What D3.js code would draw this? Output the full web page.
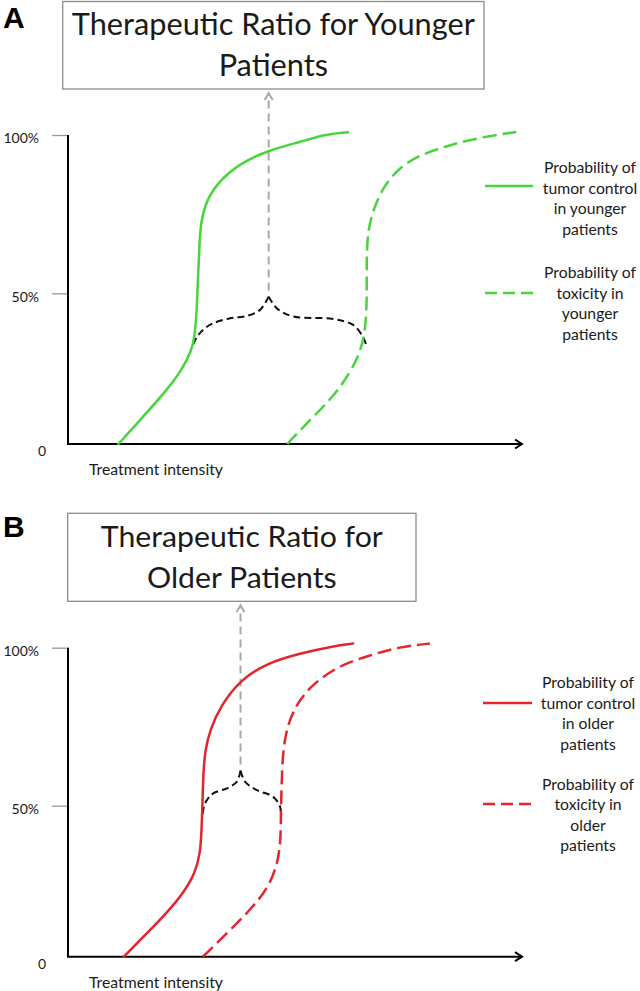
<!DOCTYPE html>
<html>
<head>
<meta charset="utf-8">
<script src="https://cdn.jsdelivr.net/npm/d3@7"></script>
<style>
  html, body { margin: 0; padding: 0; background: #fff; }
  svg { display: block; }
</style>
</head>
<body>
<svg id="chart" width="640" height="991"></svg>
<script>
// ---------------- DATA ----------------
const yTickValues = [0, 50, 100];
const yTickLabels = ["0", "50%", "100%"];
const xAxisLabel = "Treatment intensity";
const panelLetters = ["A", "B"];
const titleLinesA = ["Therapeutic Ratio for Younger", "Patients"];
const titleLinesB = ["Therapeutic Ratio for", "Older Patients"];
const legendControlA = ["Probability of", "tumor control", "in younger", "patients"];
const legendToxicityA = ["Probability of", "toxicity in", "younger", "patients"];
const legendControlB = ["Probability of", "tumor control", "in older", "patients"];
const legendToxicityB = ["Probability of", "toxicity in", "older", "patients"];

// [treatment intensity (0-100 along the axis), probability %]
const youngerControl = [[11.1,0],[16.5,9.0],[21.8,17.9],[25.1,24.6],[27.3,31.2],[28.0,36.8],[28.4,45.5],[28.6,54.2],[28.9,62.7],[29.1,70.9],[30.2,78.5],[32.8,84.8],[37.9,91.2],[44.5,95.3],[51.1,97.8],[57.0,100.3],[61.7,100.9]];
const youngerToxicity = [[48.3,0],[53.3,8.0],[58.4,15.6],[62.1,23.6],[64.3,30.2],[65.4,36.8],[65.8,45.5],[65.8,54.2],[65.8,62.7],[66.1,70.0],[67.2,76.3],[69.4,83.6],[73.1,89.9],[77.5,93.7],[84.1,96.9],[91.4,99.4],[98.9,101.0]];
const youngerGap = [[27.4,32.5],[28.4,35.5],[29.9,38.1],[31.9,40.0],[35.7,41.7],[39.4,42.5],[42.3,44.5],[44.2,48.9],[46.0,45.0],[49.6,42.3],[58.4,41.5],[62.8,39.5],[65.0,35.5],[65.6,33.2]];

const olderControl = [[12.3,0],[16.6,6.6],[21.7,14.4],[25.4,21.0],[28.0,27.6],[29.1,34.2],[29.4,40.9],[29.6,49.7],[29.8,60.3],[30.2,67.6],[31.3,74.0],[33.5,81.3],[37.9,89.8],[43.8,95.1],[51.1,98.2],[58.4,100.5],[62.8,101.3]];
const olderToxicity = [[29.7,0],[35.0,7.7],[40.1,15.5],[43.8,22.1],[46.0,29.8],[46.7,36.4],[46.9,43.0],[46.9,49.7],[47.1,58.1],[47.3,66.6],[48.2,75.0],[50.4,82.4],[54.0,88.7],[59.9,94.5],[66.5,97.6],[73.1,100.3],[79.7,101.3]];
const olderGap = [[29.6,46.7],[30.2,50.8],[32.0,53.9],[35.0,55.5],[37.2,57.6],[38.0,61.1],[39.0,57.6],[41.5,55.0],[45.2,52.8],[46.7,49.7],[46.9,46.7]];

// ---------------- STYLE / LAYOUT ----------------
const GREEN = "#48d43c";
const RED = "#e2262b";
const GRAY = "#a9a9a9";
const TEXT = "#1a1a1a";
const FONT = "Lato, 'Open Sans', sans-serif";

const svg = d3.select("#chart");
const x = d3.scaleLinear().domain([0, 100]).range([68, 522]);

const panels = [
  { letter: panelLetters[0], letterY: 28, yRange: [444, 293.3, 135],
    box: {x: 62.7, y: 1.5, w: 421.3, h: 87.5}, title: titleLinesA, titleSize: 30,
    titleBase: [35, 76], titleTarget: 403,
    color: GREEN, control: youngerControl, toxicity: youngerToxicity, gap: youngerGap,
    legend: [legendControlA, legendToxicityA], legendLineY: [186, 293], legendX: [485, 533], legendTextX: 590,
    legendFirstY: [168, 273] },
  { letter: panelLetters[1], letterY: 537, yRange: [956.7, 805.7, 647.7],
    box: {x: 67.7, y: 513.3, w: 348.3, h: 88}, title: titleLinesB, titleSize: 28.5,
    titleBase: [547, 588], titleTarget: 282,
    color: RED, control: olderControl, toxicity: olderToxicity, gap: olderGap,
    legend: [legendControlB, legendToxicityB], legendLineY: [703, 804], legendX: [483, 532], legendTextX: 588,
    legendFirstY: [683, 784.5] }
];

function fitGroup(sel, refWidth) {
  // compress a group of text lines by one shared horizontal factor
  const nodes = sel.nodes();
  const widths = nodes.map(n => n.getComputedTextLength());
  const factor = refWidth / widths[0];
  nodes.forEach((n, i) => {
    d3.select(n).attr("textLength", widths[i] * factor).attr("lengthAdjust", "spacingAndGlyphs");
  });
}

panels.forEach(p => {
  const g = svg.append("g");
  const y = d3.scaleLinear().domain([0, 50, 100]).range(p.yRange);

  // panel letter
  g.append("text").attr("x", 3).attr("y", p.letterY)
    .attr("font-family", "'Liberation Sans', Arial, sans-serif").attr("font-weight", "bold")
    .attr("font-size", 30).attr("fill", "#000").text(p.letter);

  // title box
  g.append("rect").attr("x", p.box.x).attr("y", p.box.y).attr("width", p.box.w).attr("height", p.box.h)
    .attr("fill", "#fff").attr("stroke", "#8c8c8c").attr("stroke-width", 1.3);
  const cx = p.box.x + p.box.w / 2;
  const tl = g.selectAll(".title").data(p.title).enter().append("text")
    .attr("class", "title").attr("x", cx).attr("y", (d, i) => p.titleBase[i])
    .attr("text-anchor", "middle").attr("font-family", FONT).attr("font-size", p.titleSize)
    .attr("fill", TEXT).text(d => d);
  fitGroup(tl, p.titleTarget);

  // y axis ticks + labels
  const yAxis = d3.axisLeft(y).tickValues(yTickValues).tickSize(16)
    .tickFormat((d, i) => yTickLabels[i]);
  const ya = g.append("g").attr("transform", `translate(${x(0)},0)`).call(yAxis);
  ya.select(".domain").remove();
  ya.selectAll(".tick line").attr("stroke", "#9a9a9a").attr("stroke-width", 1.3)
    .attr("display", d => d === 0 ? "none" : null);
  ya.selectAll(".tick text").attr("font-family", FONT).attr("font-size", 14).attr("fill", TEXT)
    .attr("x", d => d === 0 ? -22 : -29).attr("dy", d => d === 0 ? "0.85em" : "0.55em");

  // axis lines
  g.append("line").attr("x1", x(0)).attr("x2", x(0)).attr("y1", y(0)).attr("y2", y(100))
    .attr("stroke", "#000").attr("stroke-width", 2);
  g.append("line").attr("x1", x(0) - 1).attr("x2", x(100)).attr("y1", y(0)).attr("y2", y(0))
    .attr("stroke", "#000").attr("stroke-width", 2);
  g.append("path")
    .attr("d", `M${x(100) - 7},${y(0) - 4.5} L${x(100)},${y(0)} L${x(100) - 7},${y(0) + 4.5}`)
    .attr("fill", "none").attr("stroke", "#000").attr("stroke-width", 2);

  // x axis label
  const xl = g.append("text").attr("x", 89).attr("y", y(0) + 31)
    .attr("font-family", FONT).attr("font-size", 16).attr("fill", TEXT).text(xAxisLabel);
  fitGroup(xl, 134);

  const gapLine = d3.line().x(d => x(d[0])).y(d => y(d[1])).curve(d3.curveCatmullRom.alpha(0.5));
  const curveLine = d3.line().x(d => x(d[0])).y(d => y(d[1])).curve(d3.curveBasis);

  // gap bracket (split at its peak for a sharp cusp)
  const peakIdx = d3.maxIndex(p.gap, d => d[1]);
  const leftHalf = p.gap.slice(0, peakIdx + 1).reverse();
  const rightHalf = p.gap.slice(peakIdx);
  [leftHalf, rightHalf].forEach(h => {
    g.append("path").attr("d", gapLine(h)).attr("fill", "none").attr("stroke", "#111")
      .attr("stroke-width", 2).attr("stroke-dasharray", "7,4");
  });

  // gray dashed arrow from the peak up to the title box
  const px = x(p.gap[peakIdx][0]);
  const top = p.box.y + p.box.h + 4;
  g.append("line").attr("x1", px).attr("x2", px).attr("y1", y(p.gap[peakIdx][1]) - 6).attr("y2", top + 2)
    .attr("stroke", GRAY).attr("stroke-width", 2).attr("stroke-dasharray", "8,5");
  g.append("path").attr("d", `M${px - 4},${top + 7} L${px},${top} L${px + 4},${top + 7}`)
    .attr("fill", "none").attr("stroke", GRAY).attr("stroke-width", 2);

  // curves
  g.append("path").attr("d", curveLine(p.control)).attr("fill", "none").attr("stroke", p.color)
    .attr("stroke-width", 2.5).attr("stroke-linecap", "round");
  g.append("path").attr("d", curveLine(p.toxicity)).attr("fill", "none").attr("stroke", p.color)
    .attr("stroke-width", 2.5).attr("stroke-dasharray", "14,6");

  // legend
  p.legend.forEach((lines, k) => {
    g.append("line").attr("x1", p.legendX[0]).attr("x2", p.legendX[1])
      .attr("y1", p.legendLineY[k]).attr("y2", p.legendLineY[k])
      .attr("stroke", p.color).attr("stroke-width", 2.5)
      .attr("stroke-dasharray", k === 1 ? "12,6" : null);
    const lt = g.selectAll(".leg" + k).data(lines).enter().append("text")
      .attr("class", "leg" + k).attr("x", p.legendTextX)
      .attr("y", (d, i) => p.legendFirstY[k] + i * 20.5 + 5)
      .attr("text-anchor", "middle").attr("font-family", FONT).attr("font-size", 14.5)
      .attr("fill", TEXT).text(d => d);
    fitGroup(lt, 92);
  });
});
</script>
</body>
</html>
